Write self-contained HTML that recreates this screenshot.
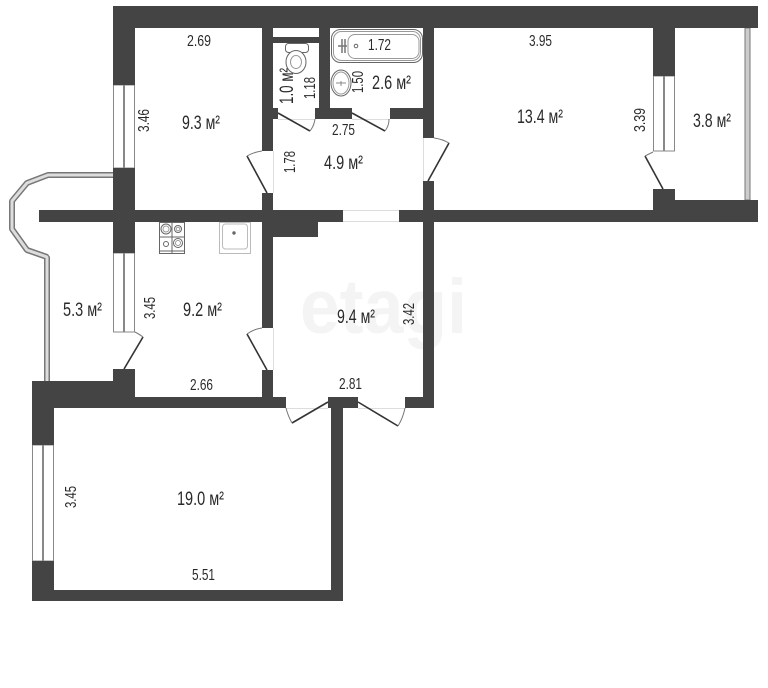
<!DOCTYPE html>
<html><head><meta charset="utf-8"><style>
html,body{margin:0;padding:0;background:#fff}
svg{display:block}
text{font-family:"Liberation Sans",sans-serif;font-size:15.5px;fill:#2a2a2a}
text.a{font-size:19px}
</style></head><body>
<svg width="768" height="688" viewBox="0 0 768 688" xmlns="http://www.w3.org/2000/svg">
<text x="300" y="333" textLength="167" lengthAdjust="spacingAndGlyphs" style="font-size:77px;font-weight:bold;fill:#f4f4f4">etagi</text>

<!-- balcony rail -->
<g fill="none" stroke-linejoin="bevel">
<polyline points="113,175 48,175 27,183 12,201 12,229 27,250 47,257 47,381" stroke="#777" stroke-width="6"/>
<polyline points="113,175 48,175 27,183 12,201 12,229 27,250 47,257 47,381" stroke="#ddd" stroke-width="3"/>
</g>
<!-- right balcony window -->
<rect x="745" y="28" width="5" height="172" fill="#ccc" stroke="#777"/>

<!-- windows -->
<g fill="#fff" stroke="#888" stroke-width="1">
<rect x="113.5" y="85" width="21" height="83"/><line x1="124" y1="85" x2="124" y2="168" stroke-width="2"/>
<rect x="113.5" y="253" width="21" height="79"/><line x1="124" y1="253" x2="124" y2="332" stroke-width="2"/>
<rect x="653.5" y="76" width="21" height="75"/><line x1="664" y1="76" x2="664" y2="151" stroke-width="2"/>
<rect x="32.5" y="445" width="21" height="116"/><line x1="43" y1="445" x2="43" y2="561" stroke-width="2"/>
</g>

<!-- walls -->
<g fill="#444">
<rect x="113" y="6" width="645" height="22"/>
<rect x="113" y="6" width="22" height="79"/>
<rect x="113" y="168" width="22" height="85"/>
<rect x="113" y="369" width="22" height="39"/>
<rect x="39" y="210" width="304" height="12"/>
<rect x="399" y="210" width="359" height="12"/>
<rect x="675" y="200" width="83" height="22"/>
<rect x="653" y="189" width="22" height="33"/>
<rect x="653" y="28" width="22" height="48"/>
<rect x="262" y="28" width="11" height="123"/>
<rect x="262" y="193" width="11" height="135"/>
<rect x="262" y="370" width="11" height="38"/>
<rect x="273" y="222" width="45" height="15"/>
<rect x="319" y="28" width="11" height="80"/>
<rect x="273" y="37" width="46" height="6"/>
<rect x="315" y="108" width="37" height="11"/>
<rect x="390" y="108" width="33" height="11"/>
<rect x="273" y="108" width="5" height="11"/>
<rect x="423" y="28" width="11" height="110"/>
<rect x="423" y="181" width="11" height="227"/>
<rect x="405" y="397" width="29" height="11"/>
<rect x="328" y="397" width="30" height="11"/>
<rect x="32" y="397" width="254" height="11"/>
<rect x="32" y="381" width="103" height="27"/>
<rect x="32" y="381" width="22" height="64"/>
<rect x="32" y="561" width="22" height="40"/>
<rect x="32" y="590" width="311" height="11"/>
<rect x="331" y="408" width="12" height="193"/>
</g>

<!-- opening lines -->
<g stroke="#ddd" stroke-width="1" fill="none">
<line x1="343" y1="210.5" x2="399" y2="210.5"/><line x1="343" y1="221.5" x2="399" y2="221.5"/>
<line x1="273.5" y1="151" x2="273.5" y2="193"/><line x1="423.5" y1="138" x2="423.5" y2="181"/>
<line x1="273.5" y1="328" x2="273.5" y2="370"/><line x1="278" y1="119.5" x2="315" y2="119.5"/>
<line x1="352" y1="119.5" x2="390" y2="119.5"/><line x1="286" y1="408.5" x2="328" y2="408.5"/>
<line x1="358" y1="408.5" x2="405" y2="408.5"/>
</g>

<!-- doors -->
<g fill="none" stroke="#333" stroke-width="1.6">
<line x1="267" y1="193" x2="247" y2="156"/>
<line x1="278" y1="113" x2="310" y2="131"/>
<line x1="352" y1="113" x2="385" y2="131"/>
<line x1="428" y1="181" x2="449" y2="143"/>
<line x1="663" y1="189" x2="645" y2="156"/>
<line x1="267" y1="370" x2="247" y2="334"/>
<line x1="124" y1="369" x2="143" y2="337"/>
<line x1="328" y1="402" x2="292" y2="423"/>
<line x1="358" y1="402" x2="398" y2="426"/>
</g>
<g fill="none" stroke="#777" stroke-width="1">
<path d="M247,156 Q254,152 262,151"/>
<path d="M310,131 Q314,126 315,119"/>
<path d="M385,131 Q389,126 389,119"/>
<path d="M449,143 Q442,139 434,138"/>
<path d="M645,156 L653,152"/>
<path d="M247,334 Q254,329 262,328"/>
<path d="M143,337 Q139,334 135,332"/>
<path d="M292,423 Q288,416 286,408"/>
<path d="M398,426 Q403,418 405,408"/>
</g>

<!-- toilet -->
<g fill="#fff" stroke="#666" stroke-width="1">
<rect x="285.5" y="43.5" width="23" height="9" rx="3"/>
<ellipse cx="296" cy="62" rx="10" ry="11.5"/>
<ellipse cx="296" cy="62" rx="5.5" ry="6.5" stroke="#999"/>
</g>
<!-- bathtub -->
<g fill="#fff" stroke="#666" stroke-width="1">
<rect x="331.5" y="29.5" width="91" height="33" rx="9"/>
<rect x="333.5" y="31.5" width="87" height="29" rx="8" stroke="#999"/>
<rect x="348" y="34.5" width="71" height="24" rx="7" stroke="#999"/>
<circle cx="356" cy="46" r="1.8"/>
<path d="M338,46 H347 M342,39 V53 M345,39 V53" stroke="#777" stroke-width="1.5"/>
</g>
<!-- basin -->
<g fill="#fff" stroke="#666" stroke-width="1">
<ellipse cx="341" cy="83" rx="10" ry="13"/>
<ellipse cx="341" cy="83" rx="8" ry="11" stroke="#999"/>
<path d="M336,83 H346 M341,81 V86" stroke="#888"/>
</g>
<!-- stove -->
<g fill="#fff" stroke="#666" stroke-width="1">
<rect x="159.5" y="222.5" width="25" height="31"/>
<line x1="172" y1="222" x2="172" y2="254"/><line x1="159" y1="237" x2="185" y2="237"/><line x1="159" y1="251" x2="185" y2="251"/>
<circle cx="166" cy="229" r="5"/><circle cx="166" cy="229" r="3" stroke="#999"/>
<circle cx="178" cy="229" r="3.5"/><circle cx="178" cy="229" r="1.8" stroke="#999"/>
<circle cx="166" cy="244" r="2.5"/>
<circle cx="178" cy="243" r="4.5"/><circle cx="178" cy="243" r="2.5" stroke="#999"/>
</g>
<!-- sink -->
<g fill="#fff" stroke="#bbb" stroke-width="1">
<rect x="219.5" y="222.5" width="31" height="31"/>
<rect x="222.5" y="224" width="25" height="25" rx="3"/>
<circle cx="234" cy="233" r="1.2" fill="#666" stroke="#666"/>
</g>

<!-- labels -->
<g>
<text x="187" y="46" textLength="24" lengthAdjust="spacingAndGlyphs">2.69</text>
<text class="a" x="182" y="129" textLength="38" lengthAdjust="spacingAndGlyphs">9.3 м²</text>
<text x="368" y="50" textLength="23" lengthAdjust="spacingAndGlyphs">1.72</text>
<text class="a" x="372" y="89" textLength="39" lengthAdjust="spacingAndGlyphs">2.6 м²</text>
<text x="332" y="135" textLength="23" lengthAdjust="spacingAndGlyphs">2.75</text>
<text class="a" x="324" y="169" textLength="39" lengthAdjust="spacingAndGlyphs">4.9 м²</text>
<text x="529" y="46" textLength="23" lengthAdjust="spacingAndGlyphs">3.95</text>
<text class="a" x="517" y="123" textLength="46" lengthAdjust="spacingAndGlyphs">13.4 м²</text>
<text class="a" x="693" y="127" textLength="38" lengthAdjust="spacingAndGlyphs">3.8 м²</text>
<text class="a" x="63" y="316" textLength="39" lengthAdjust="spacingAndGlyphs">5.3 м²</text>
<text class="a" x="183" y="316" textLength="39" lengthAdjust="spacingAndGlyphs">9.2 м²</text>
<text x="190" y="390" textLength="23" lengthAdjust="spacingAndGlyphs">2.66</text>
<text class="a" x="337" y="323" textLength="38" lengthAdjust="spacingAndGlyphs">9.4 м²</text>
<text x="339" y="389" textLength="23" lengthAdjust="spacingAndGlyphs">2.81</text>
<text class="a" x="177" y="505" textLength="47" lengthAdjust="spacingAndGlyphs">19.0 м²</text>
<text x="192" y="580" textLength="23" lengthAdjust="spacingAndGlyphs">5.51</text>
<text transform="translate(149,132) rotate(-90)" textLength="23" lengthAdjust="spacingAndGlyphs">3.46</text>
<text class="a" transform="translate(293,104) rotate(-90)" textLength="36" lengthAdjust="spacingAndGlyphs">1.0 м²</text>
<text transform="translate(315,99) rotate(-90)" textLength="22" lengthAdjust="spacingAndGlyphs">1.18</text>
<text transform="translate(363,93) rotate(-90)" textLength="22" lengthAdjust="spacingAndGlyphs">1.50</text>
<text transform="translate(295,173) rotate(-90)" textLength="22" lengthAdjust="spacingAndGlyphs">1.78</text>
<text transform="translate(645,132) rotate(-90)" textLength="24" lengthAdjust="spacingAndGlyphs">3.39</text>
<text transform="translate(155,319) rotate(-90)" textLength="22" lengthAdjust="spacingAndGlyphs">3.45</text>
<text transform="translate(414,325) rotate(-90)" textLength="22" lengthAdjust="spacingAndGlyphs">3.42</text>
<text transform="translate(76,508) rotate(-90)" textLength="22" lengthAdjust="spacingAndGlyphs">3.45</text>
</g>
</svg>
</body></html>
